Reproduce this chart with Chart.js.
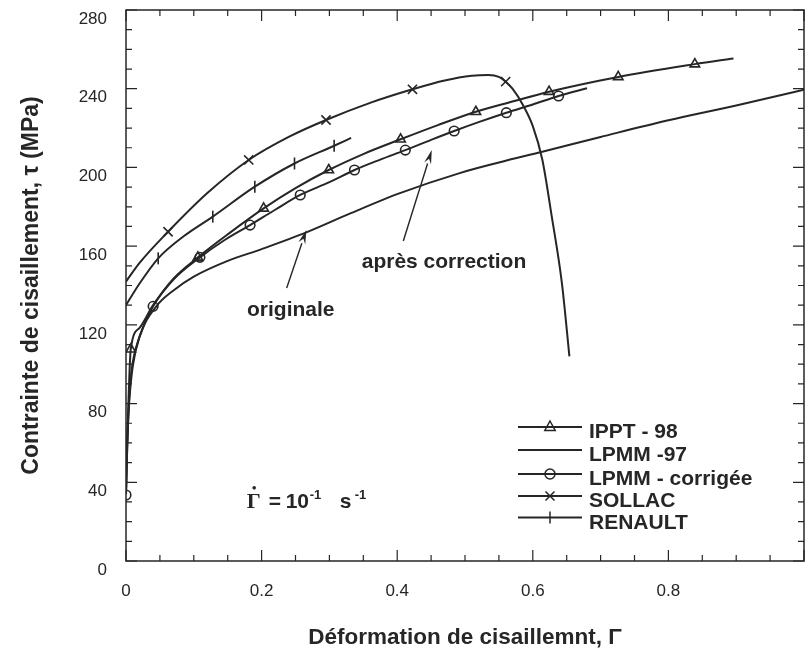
<!DOCTYPE html>
<html><head><meta charset="utf-8">
<script src="https://cdn.jsdelivr.net/npm/chart.js@4.4.1/dist/chart.umd.min.js"></script>
<style>html,body{margin:0;padding:0;background:#fff;}#wrap{width:805px;height:659px;}</style>
</head><body><div id="wrap"><canvas id="c" width="805" height="659"></canvas></div>
<script>
// ---- data ----
const xTickLabels = ['0', '0.2', '0.4', '0.6', '0.8'];
const yTickLabels = ['0', '40', '80', '120', '160', '200', '240', '280'];

const ipptCurve = [[0,34],[0.002,62],[0.004,85],[0.007,107.6],[0.02,118.5],[0.04,130],[0.07,143.5],[0.106,154.3],[0.15,166],[0.203,179.2],[0.25,189.5],[0.299,198.7],[0.35,206.8],[0.405,214.3],[0.46,221.5],[0.516,228.3],[0.57,233.5],[0.624,238.5],[0.726,246],[0.839,252.5],[0.896,255.4]];
const ipptMarks = [[0.007,107.6],[0.106,154.3],[0.203,179.2],[0.299,198.7],[0.405,214.3],[0.516,228.3],[0.624,238.5],[0.726,246],[0.839,252.5]];

const lpmm97Curve = [[0,34],[0.001,52],[0.003,70],[0.005,82],[0.01,99],[0.02,114],[0.045,129.5],[0.07,137.5],[0.1,144.5],[0.15,152.5],[0.2,158.5],[0.266,167],[0.33,176.5],[0.403,186.8],[0.491,197],[0.55,202.5],[0.614,208],[0.7,215.5],[0.8,224],[0.9,231.5],[1.0,239.5]];

const corrCurve = [[0,34],[0.002,60],[0.005,85],[0.01,101],[0.02,114],[0.04,129.4],[0.07,143],[0.109,154.3],[0.145,163],[0.183,170.7],[0.22,178.5],[0.257,186],[0.3,192.5],[0.337,198.7],[0.375,204],[0.412,208.8],[0.45,214],[0.484,218.5],[0.52,223],[0.561,227.8],[0.6,232],[0.638,236.3],[0.68,240.2]];
const corrMarks = [[0,33.5],[0.04,129.4],[0.109,154.3],[0.183,170.7],[0.257,186],[0.337,198.7],[0.412,208.8],[0.484,218.5],[0.561,227.8],[0.638,236.3]];

const sollacCurve = [[0,142],[0.02,151.5],[0.062,167.3],[0.12,187],[0.181,203.8],[0.24,215.5],[0.295,224.1],[0.36,232.8],[0.4225,239.7],[0.47,244.2],[0.51,246.6],[0.535,247],[0.55,246],[0.56,243.6],[0.57,240],[0.585,232],[0.6,221],[0.614,204],[0.628,175],[0.643,141],[0.654,104]];
const sollacMarks = [[0.062,167.3],[0.181,203.8],[0.295,224.1],[0.4225,239.7],[0.56,243.6]];

const renaultCurve = [[0,130],[0.02,141],[0.0475,153.8],[0.085,165],[0.128,175],[0.19,190.2],[0.2485,202],[0.307,211],[0.332,215]];
const renaultMarks = [[0.0475,153.8],[0.128,175],[0.19,190.2],[0.2485,202],[0.307,211]];

const legendNames = ['IPPT - 98', 'LPMM -97', 'LPMM - corrigée', 'SOLLAC', 'RENAULT'];
const legendStyles = ['triangle', null, 'circle', 'crossRot', 'tick'];

const noteOriginale = { text: 'originale', at: [0.243, 127.5], from: [0.237, 138.7], to: [0.266, 168.2] };
const noteApres = { text: 'après correction', at: [0.469, 152], from: [0.409, 162.6], to: [0.451, 208.8] };
const rateAt = [0.178, 27];

// ---- chart ----
const ink = '#262626';
const SANS = '"Liberation Sans", Arial, Helvetica, sans-serif';
const toXY = a => a.map(p => ({ x: p[0], y: p[1] }));

function curve(data) {
  return { type: 'line', data: toXY(data), borderColor: ink, borderWidth: 2, pointRadius: 0,
    cubicInterpolationMode: 'monotone', fill: false };
}
function marks(data, style, r, rot) {
  return { type: 'scatter', data: toXY(data), showLine: false, pointStyle: style, pointRadius: r,
    pointRotation: rot || 0, borderColor: ink, borderWidth: 1.6, backgroundColor: 'rgba(0,0,0,0)' };
}

function drawMarker(ctx, style, x, y) {
  ctx.beginPath();
  if (style === 'triangle') {
    ctx.moveTo(x, y - 6); ctx.lineTo(x + 5.2, y + 3.5); ctx.lineTo(x - 5.2, y + 3.5); ctx.closePath();
  } else if (style === 'circle') {
    ctx.arc(x, y, 5, 0, Math.PI * 2);
  } else if (style === 'crossRot') {
    ctx.moveTo(x - 4.5, y - 4.5); ctx.lineTo(x + 4.5, y + 4.5);
    ctx.moveTo(x + 4.5, y - 4.5); ctx.lineTo(x - 4.5, y + 4.5);
  } else if (style === 'tick') {
    ctx.moveTo(x, y - 6); ctx.lineTo(x, y + 6);
  }
  ctx.stroke();
}

function arrow(ctx, x0, y0, x1, y1) {
  const ang = Math.atan2(y1 - y0, x1 - x0);
  const L = 14, W = 3.6;
  const bx = x1 - L * Math.cos(ang), by = y1 - L * Math.sin(ang);
  ctx.beginPath(); ctx.moveTo(x0, y0); ctx.lineTo(bx, by); ctx.lineWidth = 1.4; ctx.stroke();
  ctx.beginPath();
  ctx.moveTo(x1, y1);
  ctx.lineTo(bx + W * Math.sin(ang), by - W * Math.cos(ang));
  ctx.lineTo(bx + 0.35 * L * Math.cos(ang), by + 0.35 * L * Math.sin(ang));
  ctx.lineTo(bx - W * Math.sin(ang), by + W * Math.cos(ang));
  ctx.closePath(); ctx.fill();
}

const decor = {
  id: 'decor',
  afterDatasetsDraw(chart) {
    const { ctx, chartArea: a, scales: { x, y } } = chart;
    ctx.save();
    ctx.strokeStyle = ink; ctx.fillStyle = ink;
    // frame
    ctx.lineWidth = 1.5;
    ctx.strokeRect(a.left, a.top, a.right - a.left, a.bottom - a.top);
    // inward ticks
    ctx.lineWidth = 1.2;
    ctx.beginPath();
    for (let i = 0; i <= 20; i++) {
      const px = x.getPixelForValue(i * 0.05);
      const L = (i % 4 === 0) ? 11 : 6;
      ctx.moveTo(px, a.bottom); ctx.lineTo(px, a.bottom - L);
      ctx.moveTo(px, a.top); ctx.lineTo(px, a.top + L);
    }
    for (let j = 0; j <= 28; j++) {
      const py = y.getPixelForValue(j * 10);
      const L = (j % 4 === 0) ? 11 : 6;
      ctx.moveTo(a.left, py); ctx.lineTo(a.left + L, py);
      ctx.moveTo(a.right, py); ctx.lineTo(a.right - L, py);
    }
    ctx.stroke();

    // legend
    ctx.font = 'bold 21px ' + SANS;
    ctx.textBaseline = 'alphabetic'; ctx.textAlign = 'left';
    const rows = [427, 450, 474, 496, 517.5];
    legendNames.forEach((name, i) => {
      const ly = rows[i];
      ctx.lineWidth = 2;
      ctx.beginPath(); ctx.moveTo(518, ly); ctx.lineTo(582, ly); ctx.stroke();
      ctx.lineWidth = 1.5;
      if (legendStyles[i]) drawMarker(ctx, legendStyles[i], 550, ly);
      ctx.fillText(name, 589, ly + 11);
    });

    // annotations
    [noteOriginale, noteApres].forEach(n => {
      ctx.font = 'bold 21px ' + SANS;
      ctx.textAlign = 'center'; ctx.textBaseline = 'middle';
      ctx.fillText(n.text, x.getPixelForValue(n.at[0]), y.getPixelForValue(n.at[1]));
      arrow(ctx, x.getPixelForValue(n.from[0]), y.getPixelForValue(n.from[1]),
        x.getPixelForValue(n.to[0]), y.getPixelForValue(n.to[1]));
    });

    // strain rate text
    const tx = x.getPixelForValue(rateAt[0]);
    const ty = y.getPixelForValue(rateAt[1]);
    ctx.textAlign = 'left'; ctx.textBaseline = 'alphabetic';
    const big = 'bold 21px ' + SANS, small = 'bold 13px ' + SANS;
    const parts = [
      ['Γ', 'bold 22px "Liberation Serif", "Times New Roman", serif', 0, 0],
      ['=', big, 22, 0],
      ['10', big, 39, 0],
      ['-1', small, 63, -9],
      ['s', big, 93, 0],
      ['-1', small, 108, -9]
    ];
    parts.forEach((p, k) => {
      ctx.font = p[1];
      ctx.fillText(p[0], tx + p[2], ty + p[3]);
      if (k === 0) {
        const w = ctx.measureText(p[0]).width;
        ctx.beginPath(); ctx.arc(tx + w / 2 + 0.5, ty - 20, 1.8, 0, Math.PI * 2); ctx.fill();
      }
    });
    ctx.restore();
  }
};

new Chart(document.getElementById('c'), {
  data: {
    datasets: [
      curve(ipptCurve), curve(lpmm97Curve), curve(corrCurve), curve(sollacCurve), curve(renaultCurve),
      marks(ipptMarks, 'triangle', 5.5), marks(corrMarks, 'circle', 4.8),
      marks(sollacMarks, 'crossRot', 6.5), marks(renaultMarks, 'line', 6, 90)
    ]
  },
  options: {
    responsive: false, animation: false, devicePixelRatio: 1,
    layout: { autoPadding: false, padding: { top: 10, right: 1, left: 0, bottom: 0 } },
    plugins: { legend: { display: false }, tooltip: { enabled: false } },
    scales: {
      x: {
        type: 'linear', min: 0, max: 1,
        grid: { display: false, drawTicks: false }, border: { display: false },
        ticks: { stepSize: 0.2, padding: 20, color: ink, font: { family: SANS, size: 17 },
          callback: (v, i) => xTickLabels[i] !== undefined ? xTickLabels[i] : '' },
        afterBuildTicks: s => { s.ticks = s.ticks.filter(t => t.value < 0.999); },
        title: { display: true, text: 'Déformation de cisaillemnt, Γ', color: ink,
          font: { family: SANS, size: 22.5, weight: 'bold' }, padding: { top: 0, bottom: 8 } },
        afterFit: s => { s.height = 98; s.paddingLeft = 0; s.paddingRight = 0; }
      },
      y: {
        type: 'linear', min: 0, max: 280,
        grid: { display: false, drawTicks: false }, border: { display: false },
        ticks: { stepSize: 40, padding: 19, labelOffset: 9, color: ink, font: { family: SANS, size: 17 },
          callback: (v, i) => yTickLabels[i] !== undefined ? yTickLabels[i] : '' },
        title: { display: true, text: 'Contrainte de cisaillement, τ (MPa)', color: ink,
          font: { family: SANS, size: 23, weight: 'bold' }, padding: { top: 18, bottom: 0 } },
        afterFit: s => { s.width = 126; s.paddingTop = 0; s.paddingBottom = 0; }
      }
    }
  },
  plugins: [decor]
});
</script></body></html>
